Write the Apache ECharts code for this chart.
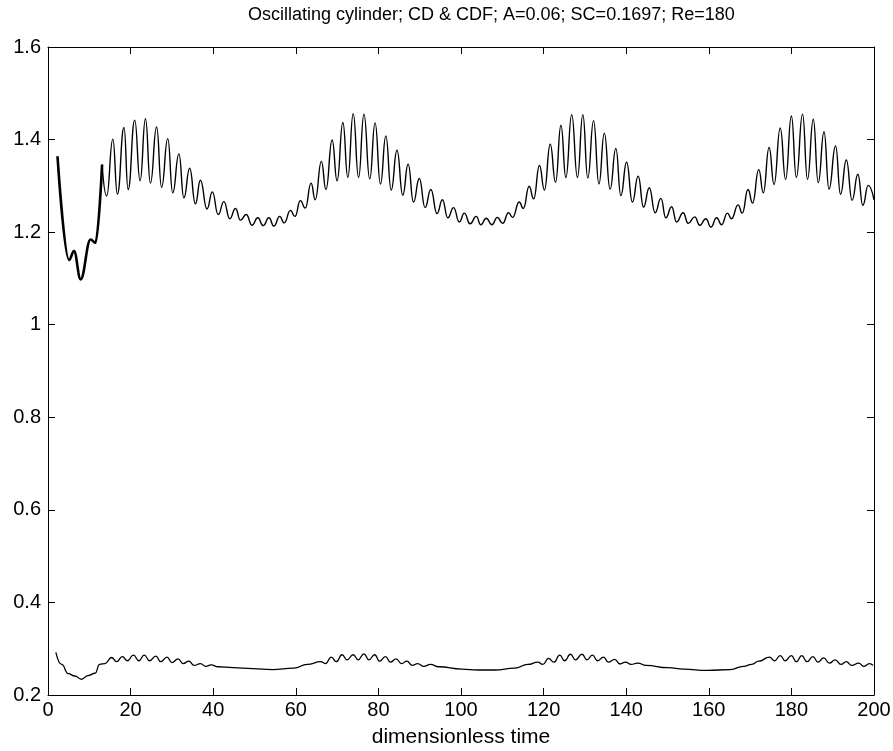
<!DOCTYPE html>
<html>
<head>
<meta charset="utf-8">
<script src="https://cdn.jsdelivr.net/npm/echarts@6/dist/echarts.min.js"></script>
<style>
  html, body { margin: 0; padding: 0; background: #fff; }
  #chart { width: 893px; height: 751px; }
</style>
</head>
<body>
<div id="chart"></div>
<script>
// values: peaks and troughs of each curve
var xTicks = [0, 20, 40, 60, 80, 100, 120, 140, 160, 180, 200];
var yTicks = [0.2, 0.4, 0.6, 0.8, 1, 1.2, 1.4, 1.6];

// start-up transient of CD (drawn heavier in the original)
var cdStartTime = [2.3, 5.1, 6.3, 7.9, 10.3, 11.5, 13.1];
var cdStartValue = [1.364, 1.140, 1.159, 1.098, 1.184, 1.177, 1.346];

var cdTime = [
  13.1, 14.2, 15.7, 16.8, 18.4, 19.4, 21.0, 22.3, 23.6, 24.8, 26.3, 27.5, 29.0, 30.2, 31.7, 32.9,
  34.3, 35.7, 36.9, 38.5, 39.8, 41.2, 42.6, 44.0, 45.4, 46.6, 48.0, 49.4, 50.8, 52.1, 53.5, 54.7,
  56.1, 57.2, 58.7, 59.8, 61.1, 62.3, 63.7, 64.7, 66.2, 67.3, 68.8, 70.0, 71.4, 72.6, 73.9, 75.2,
  76.5, 77.9, 79.2, 80.5, 81.8, 83.1, 84.5, 85.9, 87.2, 88.5, 89.9, 91.3, 92.7, 94.2, 95.5, 96.8,
  98.2, 99.6, 100.8, 102.2, 103.7, 104.8, 106.1, 107.5, 108.8, 110.1, 111.5, 112.5, 114.1, 115.1,
  116.5, 117.6, 119.0, 120.2, 121.6, 122.9, 124.2, 125.4, 126.8, 128.2, 129.5, 130.7, 132.1, 133.4,
  134.7, 136.1, 137.5, 138.7, 140.1, 141.5, 142.9, 144.2, 145.6, 147.0, 148.4, 149.6, 151.0, 152.2,
  153.8, 155.0, 156.6, 157.8, 159.3, 160.5, 161.9, 163.1, 164.5, 165.5, 167.1, 168.1, 169.5, 170.6,
  172.1, 173.2, 174.6, 175.8, 177.3, 178.6, 180.0, 181.2, 182.7, 183.9, 185.3, 186.5, 187.9, 189.1,
  190.7, 191.9, 193.3, 194.7, 196.1, 197.3, 198.6, 200
];
var cdValue = [
  1.346, 1.278, 1.401, 1.282, 1.426, 1.292, 1.442, 1.311, 1.445, 1.306, 1.427, 1.297, 1.402, 1.285, 1.369, 1.274,
  1.338, 1.261, 1.312, 1.250, 1.287, 1.238, 1.266, 1.229, 1.251, 1.226, 1.238, 1.215, 1.231, 1.214, 1.231, 1.213,
  1.234, 1.220, 1.247, 1.234, 1.268, 1.252, 1.306, 1.270, 1.353, 1.292, 1.399, 1.311, 1.437, 1.318, 1.456, 1.318,
  1.455, 1.315, 1.436, 1.304, 1.408, 1.291, 1.377, 1.280, 1.347, 1.265, 1.316, 1.253, 1.292, 1.240, 1.270, 1.231,
  1.253, 1.222, 1.241, 1.218, 1.234, 1.216, 1.230, 1.216, 1.232, 1.219, 1.242, 1.232, 1.265, 1.251,
  1.299, 1.272, 1.344, 1.291, 1.390, 1.308, 1.431, 1.318, 1.454, 1.318, 1.454, 1.317, 1.441, 1.304,
  1.414, 1.293, 1.381, 1.279, 1.351, 1.265, 1.321, 1.254, 1.296, 1.242, 1.273, 1.231, 1.255, 1.222,
  1.242, 1.219, 1.233, 1.215, 1.229, 1.211, 1.231, 1.216, 1.241, 1.229, 1.259, 1.241, 1.292, 1.263,
  1.335, 1.285, 1.383, 1.303, 1.425, 1.314, 1.451, 1.318, 1.455, 1.314, 1.444, 1.307, 1.417, 1.293,
  1.386, 1.282, 1.356, 1.269, 1.325, 1.258, 1.301, 1.270
];

var cdfTime = [
  1.9, 3.3, 4.9, 6.5, 8.1, 9.7, 11.4, 12.5, 13.8, 15.4, 16.6, 18.0, 19.2, 20.7, 22.0, 23.3, 24.6,
  26.1, 27.3, 28.8, 30.0, 31.5, 32.7, 34.1, 35.4, 36.9, 38.2, 39.5, 41.2, 44.8, 49.5, 54.3, 59.5,
  62.8, 66.0, 67.2, 68.6, 69.8, 71.2, 72.4, 73.9, 75.1, 76.5, 77.7, 79.1, 80.3, 81.7, 82.9, 84.3,
  85.6, 86.9, 88.2, 89.5, 91.0, 92.6, 94.6, 100.2, 104.1, 108.2, 113.0, 116.2, 118.6, 119.8, 121.2,
  122.5, 123.9, 125.1, 126.5, 127.7, 129.3, 130.5, 131.8, 133.1, 134.5, 135.7, 137.2, 138.5, 139.8,
  141.2, 142.8, 144.8, 150.1, 153.9, 159.6, 165.2, 168.4, 170.4, 172.1, 174.7, 175.9, 177.3, 178.5,
  180.0, 181.2, 182.5, 183.8, 185.2, 186.4, 187.8, 189.2, 190.6, 192.0, 193.3, 194.6, 196.3, 197.5,
  198.9, 199.8
];
var cdfValue = [
  0.292, 0.266, 0.246, 0.241, 0.234, 0.242, 0.247, 0.266, 0.268, 0.281, 0.272, 0.283, 0.274, 0.286, 0.274, 0.286, 0.274,
  0.284, 0.272, 0.282, 0.270, 0.278, 0.268, 0.273, 0.264, 0.268, 0.262, 0.265, 0.261, 0.259, 0.257, 0.255, 0.258,
  0.266, 0.272, 0.268, 0.282, 0.272, 0.287, 0.276, 0.287, 0.276, 0.289, 0.276, 0.287, 0.273, 0.283, 0.271, 0.278,
  0.268, 0.273, 0.264, 0.268, 0.262, 0.266, 0.261, 0.256, 0.254, 0.254, 0.258, 0.266, 0.271, 0.266, 0.279,
  0.271, 0.286, 0.274, 0.288, 0.276, 0.288, 0.276, 0.286, 0.274, 0.282, 0.271, 0.277, 0.267, 0.271,
  0.266, 0.269, 0.264, 0.259, 0.256, 0.253, 0.255, 0.262, 0.266, 0.273, 0.282, 0.274, 0.285, 0.274,
  0.285, 0.272, 0.285, 0.272, 0.283, 0.271, 0.280, 0.269, 0.276, 0.266, 0.272, 0.264, 0.269, 0.262,
  0.268, 0.264
];

function pairs(xs, ys) {
  var out = [];
  for (var i = 0; i < xs.length; i++) out.push([xs[i], ys[i]]);
  return out;
}

var chart = echarts.init(document.getElementById("chart"));
var font = "'Liberation Sans', Arial, sans-serif";
var axisCommon = {
  type: "value",
  axisLine: { show: true, onZero: false, lineStyle: { color: "#000", width: 1 } },
  axisTick: { show: true, inside: true, length: 7, lineStyle: { color: "#000" } },
  splitLine: { show: false }
};

var option = {
  backgroundColor: "#fff",
  animation: false,
  title: {
    text: "Oscillating cylinder; CD & CDF; A=0.06; SC=0.1697; Re=180",
    left: 243,
    top: 1,
    textStyle: { fontFamily: font, fontSize: 18, fontWeight: "normal", color: "#000" }
  },
  grid: { left: 48, right: 19, top: 47, bottom: 56, containLabel: false, outerBoundsMode: "none" },
  xAxis: [
    Object.assign({}, axisCommon, {
      position: "bottom",
      min: xTicks[0],
      max: xTicks[xTicks.length - 1],
      interval: 20,
      name: "dimensionless time",
      nameLocation: "middle",
      nameGap: 32,
      nameTextStyle: { fontFamily: font, fontSize: 21, color: "#000" },
      axisLabel: { margin: 5, fontFamily: font, fontSize: 20, color: "#000" }
    }),
    Object.assign({}, axisCommon, {
      position: "top",
      min: xTicks[0],
      max: xTicks[xTicks.length - 1],
      interval: 20,
      axisLabel: { show: false }
    })
  ],
  yAxis: [
    Object.assign({}, axisCommon, {
      position: "left",
      min: yTicks[0],
      max: yTicks[yTicks.length - 1],
      interval: 0.2,
      axisLabel: {
        margin: 7, fontFamily: font, fontSize: 20, color: "#000",
        formatter: function (v) { return String(+v.toFixed(1)); }
      }
    }),
    Object.assign({}, axisCommon, {
      position: "right",
      min: yTicks[0],
      max: yTicks[yTicks.length - 1],
      interval: 0.2,
      axisLabel: { show: false }
    })
  ],
  series: [
    {
      name: "CD start",
      type: "line",
      data: pairs(cdStartTime, cdStartValue),
      showSymbol: false,
      smooth: 0.4,
      smoothMonotone: "x",
      lineStyle: { color: "#000", width: 2.6 }
    },
    {
      name: "CD",
      type: "line",
      data: pairs(cdTime, cdValue),
      showSymbol: false,
      smooth: 0.5,
      smoothMonotone: "x",
      lineStyle: { color: "#000", width: 1.4 }
    },
    {
      name: "CDF",
      type: "line",
      data: pairs(cdfTime, cdfValue),
      showSymbol: false,
      smooth: 0.5,
      smoothMonotone: "x",
      lineStyle: { color: "#000", width: 1.3 }
    }
  ]
};

option && chart.setOption(option);
</script>
</body>
</html>
